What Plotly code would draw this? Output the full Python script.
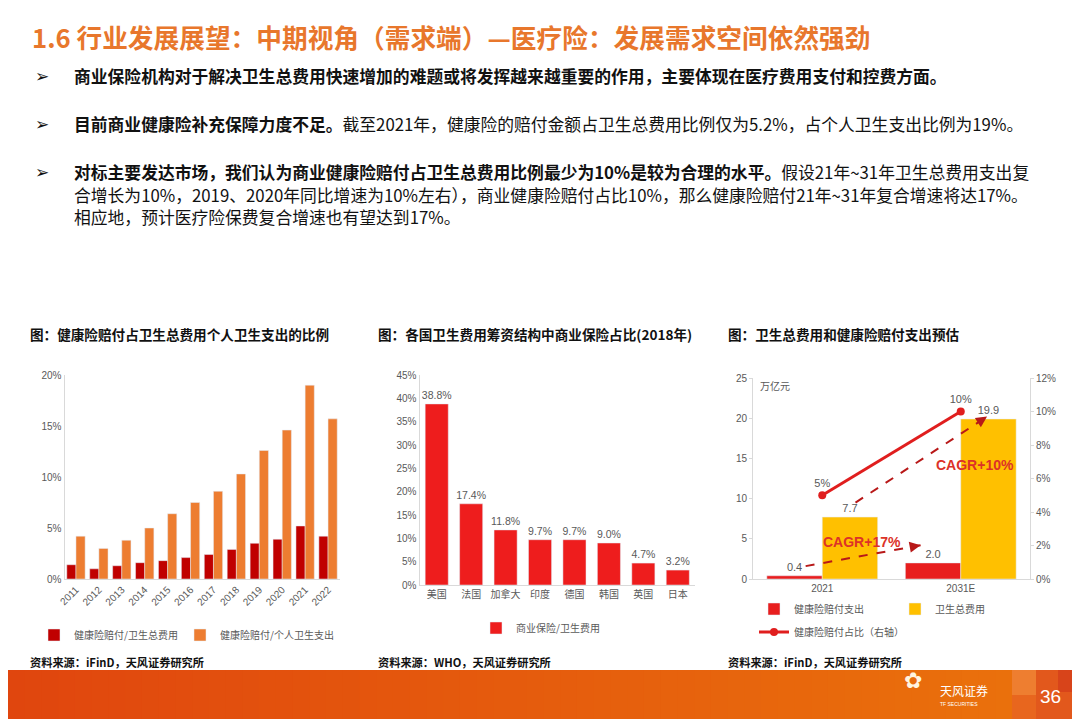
import plotly.graph_objects as go

# chart 1: 健康险赔付占比
years = ["2011", "2012", "2013", "2014", "2015", "2016", "2017", "2018", "2019", "2020", "2021", "2022"]
claims_to_total = [1.4, 1.0, 1.3, 1.6, 1.8, 2.1, 2.4, 2.9, 3.5, 3.9, 5.2, 4.2]
claims_to_personal = [4.2, 3.0, 3.8, 5.0, 6.4, 7.5, 8.6, 10.3, 12.6, 14.6, 19.0, 15.7]

# chart 2: 各国商业保险占比 (2018)
countries = ["美国", "法国", "加拿大", "印度", "德国", "韩国", "英国", "日本"]
commercial_share = [38.8, 17.4, 11.8, 9.7, 9.7, 9.0, 4.7, 3.2]

# chart 3: 卫生总费用和健康险赔付支出预估
periods = ["2021", "2031E"]
claims_spend = [0.4, 2.0]
total_health_spend = [7.7, 19.9]
claims_share = [5, 10]

W, H = 1080, 719
OFF = 8  # page body margin
GREY = "#595959"
AXLINE = "#D9D9D9"
FONT = "Noto Sans CJK SC"
NUMFONT = "Liberation Sans, Noto Sans CJK SC"


def px_x(v):
    return (v - OFF) / W


def px_y(v):
    return 1 - (v - OFF) / H


fig = go.Figure()

# ---- chart 1
fig.add_trace(go.Bar(x=years, y=claims_to_total, name="健康险赔付/卫生总费用",
                     marker_color="#C00000", offset=-0.4, width=0.4,
                     xaxis="x", yaxis="y", legend="legend"))
fig.add_trace(go.Bar(x=years, y=claims_to_personal, name="健康险赔付/个人卫生支出",
                     marker_color="#ED7D31", offset=0, width=0.4,
                     xaxis="x", yaxis="y", legend="legend5"))

# ---- chart 2
fig.add_trace(go.Bar(x=countries, y=commercial_share, name="商业保险/卫生费用",
                     marker_color="#EE1D1D", width=0.67,
                     text=[f"{v:.1f}%" for v in commercial_share], textposition="outside",
                     constraintext="none",
                     textfont=dict(size=10.5, color=GREY, family=NUMFONT), cliponaxis=False,
                     xaxis="x2", yaxis="y2", legend="legend2"))

# ---- chart 3
fig.add_trace(go.Bar(x=periods, y=claims_spend, name="健康险赔付支出",
                     marker_color="#E81E1E", offset=-0.4, width=0.4,
                     text=[f"{v:.1f}" for v in claims_spend], textposition="outside",
                     constraintext="none",
                     textfont=dict(size=11, color=GREY, family=NUMFONT), cliponaxis=False,
                     xaxis="x3", yaxis="y3", legend="legend3"))
fig.add_trace(go.Bar(x=periods, y=total_health_spend, name="卫生总费用",
                     marker_color="#FFC000", offset=0, width=0.4,
                     text=[f"{v:.1f}" for v in total_health_spend], textposition="outside",
                     constraintext="none",
                     textfont=dict(size=11, color=GREY, family=NUMFONT), cliponaxis=False,
                     xaxis="x3", yaxis="y3", legend="legend3"))
fig.add_trace(go.Scatter(x=periods, y=claims_share, name="健康险赔付占比（右轴）",
                         mode="lines+markers+text",
                         line=dict(color="#E01E1E", width=3),
                         marker=dict(size=8, color="#E01E1E"),
                         text=[f"{v}%" for v in claims_share], textposition="top center",
                         textfont=dict(size=11, color=GREY, family=NUMFONT), cliponaxis=False,
                         xaxis="x3", yaxis="y4", legend="legend4"))

tick_font = dict(size=10, color=GREY, family=NUMFONT)
common_y = dict(showgrid=False, zeroline=False, showline=True, linecolor=AXLINE,
                tickfont=tick_font, fixedrange=True)
common_x = dict(showgrid=False, zeroline=False, showline=True, linecolor=AXLINE,
                tickfont=tick_font, type="category", fixedrange=True)

# dashed CAGR arrows, anchored on the data labels
arrows = [
    ((0 - 0.12, claims_spend[0] + 1.2), (1 - 0.29, claims_spend[1] + 2.2)),
    ((0 + 0.24, total_health_spend[0] + 1.8), (1 + 0.19, total_health_spend[1] + 0.3)),
]
shapes = []
annotations = []
for (x0, y0), (x1, y1) in arrows:
    shapes.append(dict(type="line", xref="x3", yref="y3", x0=x0, y0=y0, x1=x1, y1=y1,
                       line=dict(color="#B81818", width=2, dash="dash")))
    annotations.append(dict(xref="x3", yref="y3", axref="x3", ayref="y3",
                            x=x1, y=y1, ax=x1 - (x1 - x0) * 0.06, ay=y1 - (y1 - y0) * 0.06,
                            text="", showarrow=True, arrowhead=2, arrowsize=1.1,
                            arrowwidth=2, arrowcolor="#B81818"))
annotations.append(dict(xref="x3", yref="y3", x=0.29, y=4.6, text="<b>CAGR+17%</b>",
                        showarrow=False, font=dict(size=14, color="#DC3228", family=NUMFONT)))
annotations.append(dict(xref="x3", yref="y3", x=1.10, y=14.2, text="<b>CAGR+10%</b>",
                        showarrow=False, font=dict(size=14, color="#DC3228", family=NUMFONT)))
annotations.append(dict(xref="paper", yref="paper", x=px_x(758), y=px_y(386), text="万亿元",
                        showarrow=False, xanchor="left", yanchor="middle",
                        font=dict(size=10, color=GREY, family=FONT)))

# slide text
annotations.append(dict(xref="paper", yref="paper", x=px_x(30), y=px_y(37),
                        text="<b>1.6 行业发展展望：中期视角（需求端）—医疗险：发展需求空间依然强劲</b>",
                        showarrow=False, xanchor="left", yanchor="middle",
                        font=dict(size=25.7, color="#E8772C", family=FONT)))

text_lines = [
    (76, "<b>商业保险机构对于解决卫生总费用快速增加的难题或将发挥越来越重要的作用，主要体现在医疗费用支付和控费方面。</b>"),
    (124, "<b>目前商业健康险补充保障力度不足。</b>截至2021年，健康险的赔付金额占卫生总费用比例仅为5.2%，占个人卫生支出比例为19%。"),
    (172, "<b>对标主要发达市场，我们认为商业健康险赔付占卫生总费用比例最少为10%是较为合理的水平。</b>假设21年~31年卫生总费用支出复"),
    (194.5, "合增长为10%，2019、2020年同比增速为10%左右），商业健康险赔付占比10%，那么健康险赔付21年~31年复合增速将达17%。"),
    (217, "相应地，预计医疗险保费复合增速也有望达到17%。"),
]
for yy, txt in text_lines:
    annotations.append(dict(xref="paper", yref="paper", x=px_x(72), y=px_y(yy), text=txt,
                            showarrow=False, xanchor="left", yanchor="middle", align="left",
                            font=dict(size=16.8, color="#111111", family=FONT)))
for yy in [76, 124, 172]:
    annotations.append(dict(xref="paper", yref="paper", x=px_x(42), y=px_y(yy), text="<b>➢</b>",
                            showarrow=False, xanchor="center", yanchor="middle",
                            font=dict(size=17, color="#111111", family="DejaVu Sans")))

chart_titles = [
    (28, "<b>图：健康险赔付占卫生总费用个人卫生支出的比例</b>"),
    (376, "<b>图：各国卫生费用筹资结构中商业保险占比(2018年)</b>"),
    (726, "<b>图：卫生总费用和健康险赔付支出预估</b>"),
]
for xx, txt in chart_titles:
    annotations.append(dict(xref="paper", yref="paper", x=px_x(xx), y=px_y(334), text=txt,
                            showarrow=False, xanchor="left", yanchor="middle",
                            font=dict(size=13.6, color="#111111", family=FONT)))

sources = [(28, "iFinD"), (376, "WHO"), (726, "iFinD")]
for xx, src in sources:
    annotations.append(dict(xref="paper", yref="paper", x=px_x(xx), y=px_y(662),
                            text=f"<b>资料来源：{src}，天风证券研究所</b>",
                            showarrow=False, xanchor="left", yanchor="middle",
                            font=dict(size=11.2, color="#111111", family=FONT)))

# bottom band (gradient made of thin stripes)
n = 60
c0, c1 = (224, 70, 14), (234, 112, 12)
for i in range(n):
    t = i / (n - 1)
    col = tuple(round(a + (b - a) * t) for a, b in zip(c0, c1))
    shapes.append(dict(type="rect", xref="paper", yref="paper", layer="below",
                       x0=px_x(OFF + (1012 - OFF) * i / n), x1=px_x(OFF + (1012 - OFF) * (i + 1) / n + 1),
                       y0=0, y1=px_y(670), line_width=0, fillcolor="rgb(%d,%d,%d)" % col))
for x0, x1, y0, y1, col in [(1012, 1036, 670, 730, "#EE7E30"), (1036, 1090, 670, 730, "#E2581C"),
                            (1058, 1090, 670, 692, "#D8441A"), (1012, 1036, 695, 730, "#E8661E")]:
    shapes.append(dict(type="rect", xref="paper", yref="paper", layer="below",
                       x0=px_x(x0), x1=px_x(x1), y0=px_y(y1), y1=px_y(y0),
                       line_width=0, fillcolor=col))
annotations.append(dict(xref="paper", yref="paper", x=px_x(924), y=px_y(695), text="✿",
                        showarrow=False, font=dict(size=22, color="#FFF4E0", family="DejaVu Sans")))
annotations.append(dict(xref="paper", yref="paper", x=px_x(938), y=px_y(690), text="天风证券",
                        showarrow=False, xanchor="left", yanchor="middle",
                        font=dict(size=12, color="white", family=FONT)))
annotations.append(dict(xref="paper", yref="paper", x=px_x(938), y=px_y(704), text="TF SECURITIES",
                        showarrow=False, xanchor="left", yanchor="middle",
                        font=dict(size=5, color="white", family=NUMFONT)))
annotations.append(dict(xref="paper", yref="paper", x=px_x(1050), y=px_y(696), text="36",
                        showarrow=False, xanchor="center", yanchor="middle",
                        font=dict(size=19, color="white", family=NUMFONT)))

legend_font = dict(size=10, color=GREY, family=FONT)
legend_base = dict(orientation="h", xanchor="left", yanchor="middle",
                   font=legend_font, bgcolor="rgba(0,0,0,0)")
fig.update_layout(
    width=W, height=H,
    margin=dict(l=0, r=0, t=0, b=0, autoexpand=False),
    paper_bgcolor="white", plot_bgcolor="white",
    font=dict(family=FONT, color=GREY),
    barmode="group",
    xaxis=dict(common_x, domain=[px_x(64.5), px_x(339.5)], anchor="y", tickangle=-45),
    yaxis=dict(common_y, domain=[px_y(579), px_y(375)], anchor="x", range=[0, 20], dtick=5, ticksuffix="%"),
    xaxis2=dict(common_x, domain=[px_x(419.5), px_x(695)], anchor="y2"),
    yaxis2=dict(common_y, domain=[px_y(585), px_y(375)], anchor="x2", range=[0, 45], dtick=5, ticksuffix="%"),
    xaxis3=dict(common_x, domain=[px_x(753), px_x(1030)], anchor="y3"),
    yaxis3=dict(common_y, domain=[px_y(579), px_y(378)], anchor="x3", range=[0, 25], dtick=5,
                ticks="outside", ticklen=3, tickcolor=AXLINE),
    yaxis4=dict(common_y, domain=[px_y(579), px_y(378)], anchor="x3", overlaying="y3", side="right",
                range=[0, 12], dtick=2, ticksuffix="%", ticks="outside", ticklen=3, tickcolor=AXLINE),
    legend=dict(legend_base, x=px_x(34), y=px_y(635)),
    legend5=dict(legend_base, x=px_x(180), y=px_y(635)),
    legend2=dict(legend_base, x=px_x(476), y=px_y(628)),
    legend3=dict(legend_base, x=px_x(754), y=px_y(609), entrywidth=96),
    legend4=dict(legend_base, x=px_x(754), y=px_y(632)),
    shapes=shapes,
    annotations=annotations,
    showlegend=True,
)

fig.write_html("out.html")
